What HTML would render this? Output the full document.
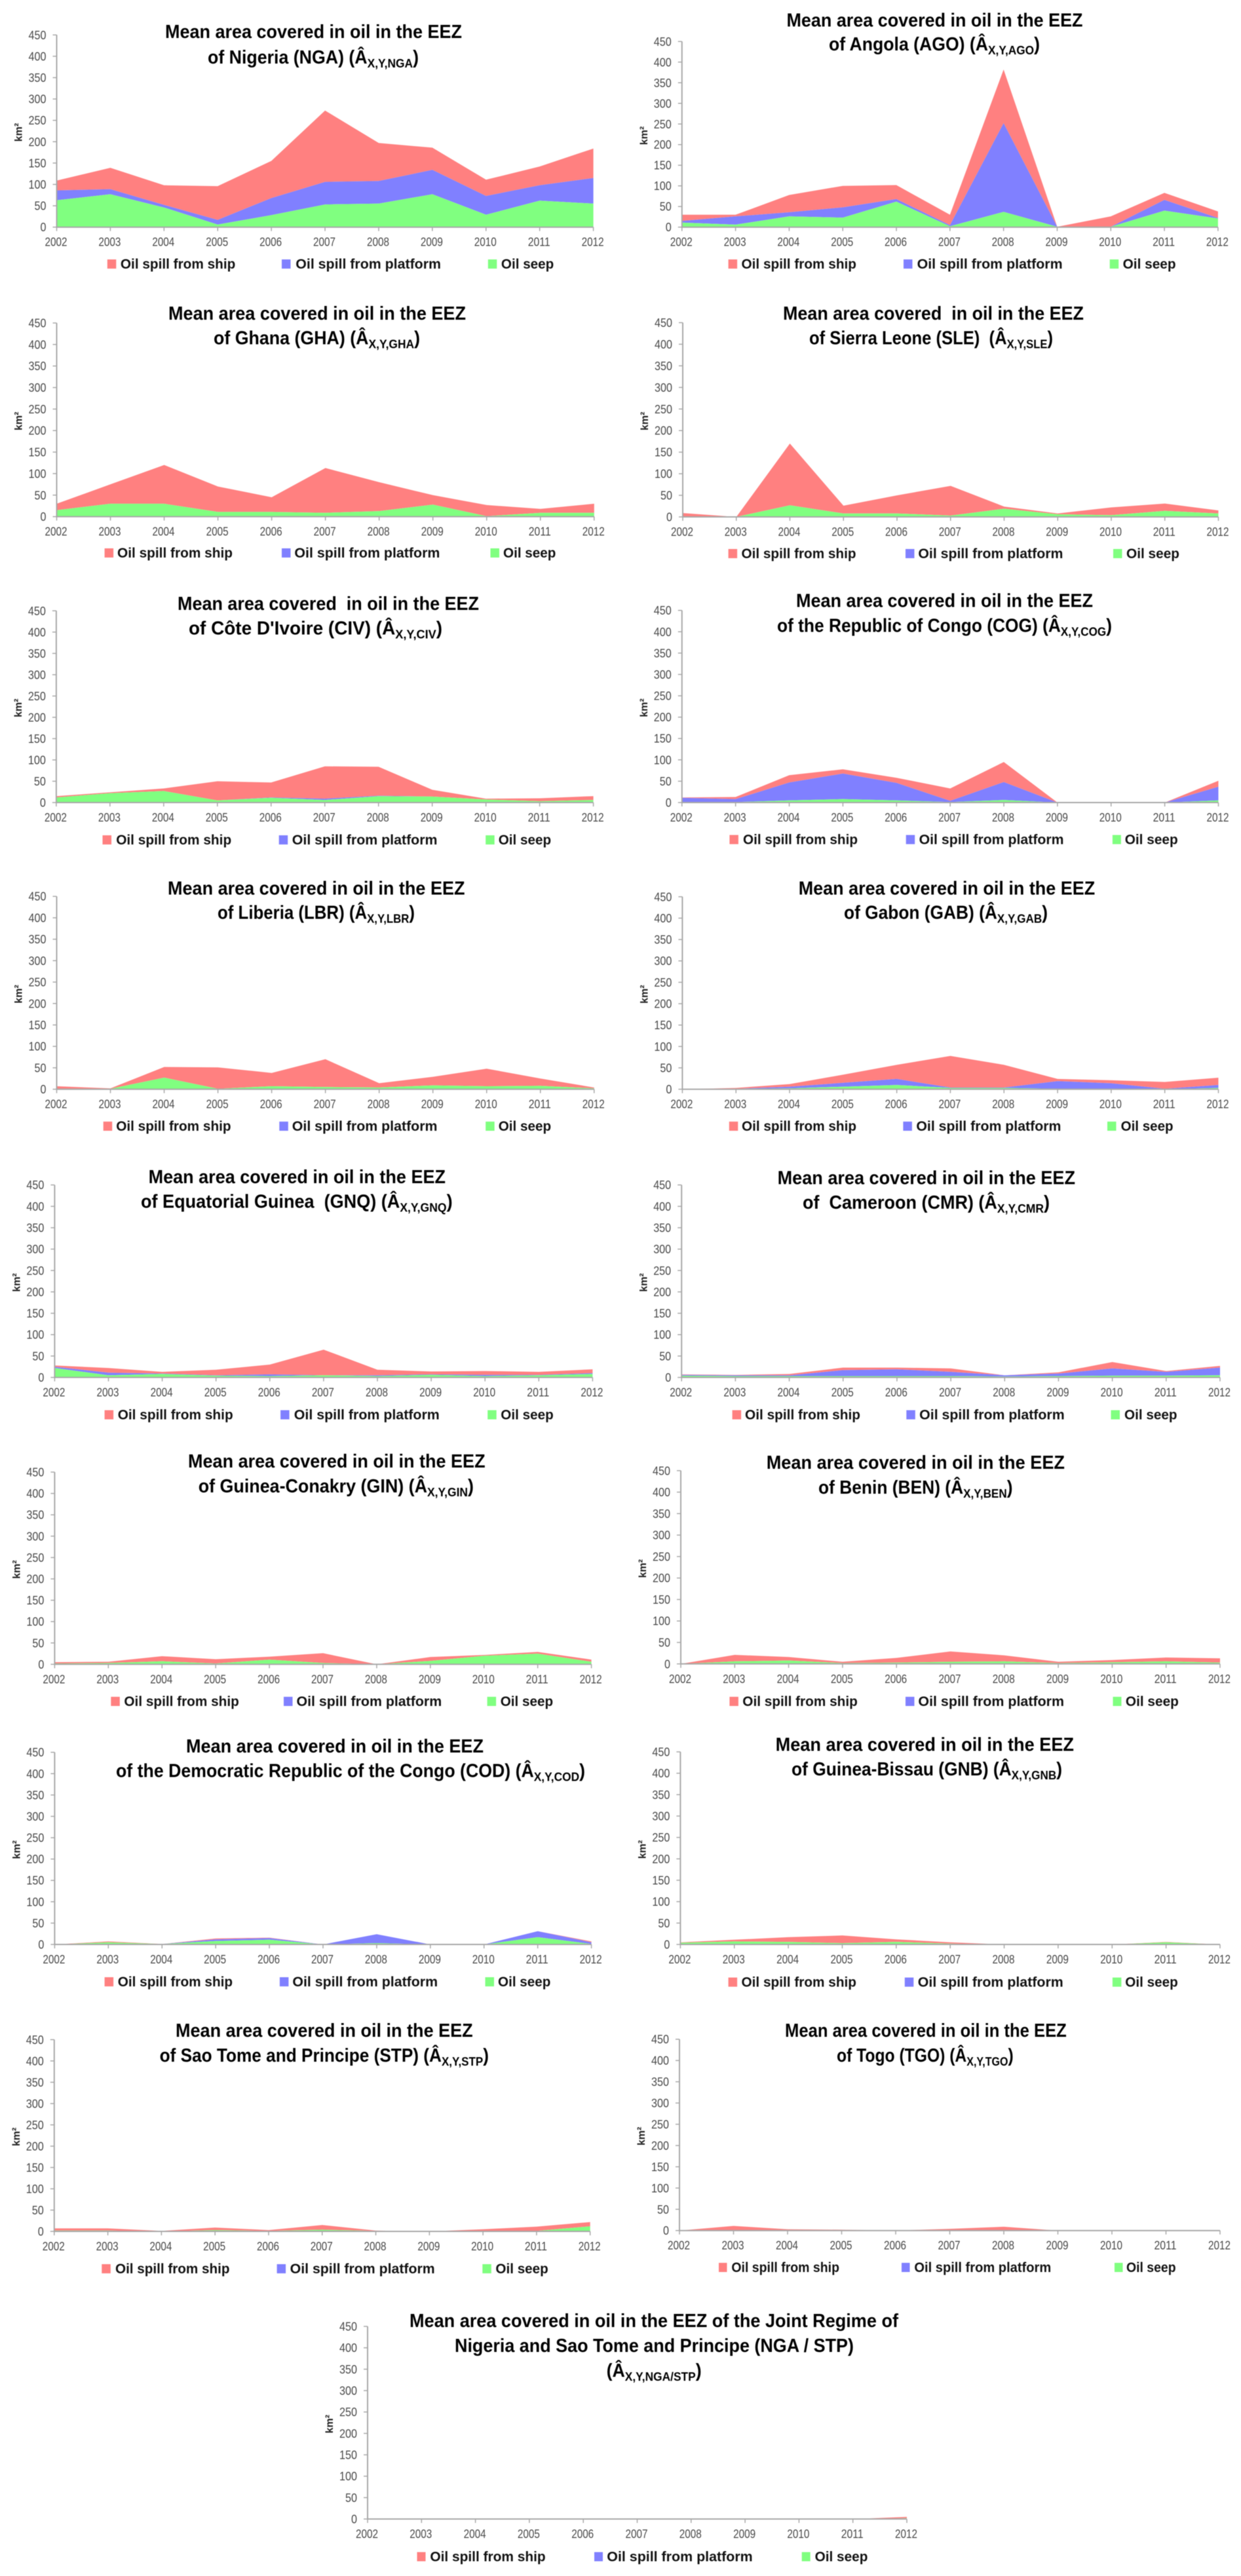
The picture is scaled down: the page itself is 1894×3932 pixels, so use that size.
<!DOCTYPE html>
<html lang="en">
<head>
<meta charset="utf-8">
<title>Mean area covered in oil in the EEZ by country</title>
<style>
html,body{margin:0;padding:0;background:#fff;}
svg{display:block;filter:blur(0.5px);}
text{font-family:"Liberation Sans",sans-serif;white-space:pre;}
.title{font-size:28.5px;font-weight:bold;fill:#000;}
.sub{font-size:18.5px;}
.legend{font-size:21px;font-weight:bold;fill:#111;}
.tick{font-size:18px;fill:#4a4a4a;}
.unit{font-size:16px;font-weight:bold;fill:#222;}
.ship{fill:#ff8080;}
.platform{fill:#8080ff;}
.seep{fill:#80ff80;}
</style>
</head>
<body>
<svg xmlns="http://www.w3.org/2000/svg" width="1894" height="3932" viewBox="0 0 1894 3932">
<rect x="0" y="0" width="1894" height="3932" fill="#fff"/>

<g>
<text class="title" x="252" y="58" textLength="453" lengthAdjust="spacingAndGlyphs">Mean area covered in oil in the EEZ</text>
<text class="title" x="317" y="97" textLength="322" lengthAdjust="spacingAndGlyphs">of Nigeria (NGA) (Â<tspan class="sub" dy="6">X,Y,NGA</tspan><tspan dy="-6">)</tspan></text>
<g id="plot-NGA"></g>
<rect class="ship" x="163.8" y="396" width="13.5" height="14"/>
<text class="legend" x="183.9" y="410" textLength="175.4" lengthAdjust="spacingAndGlyphs">Oil spill from ship</text>
<rect class="platform" x="430" y="396" width="13.5" height="14"/>
<text class="legend" x="451.3" y="410" textLength="221.7" lengthAdjust="spacingAndGlyphs">Oil spill from platform</text>
<rect class="seep" x="744.8" y="396" width="13.5" height="14"/>
<text class="legend" x="764.9" y="410" textLength="80.4" lengthAdjust="spacingAndGlyphs">Oil seep</text>
</g>

<g>
<text class="title" x="1200.5" y="40.7" textLength="452" lengthAdjust="spacingAndGlyphs">Mean area covered in oil in the EEZ</text>
<text class="title" x="1265" y="77" textLength="322" lengthAdjust="spacingAndGlyphs">of Angola (AGO) (Â<tspan class="sub" dy="6">X,Y,AGO</tspan><tspan dy="-6">)</tspan></text>
<g id="plot-AGO"></g>
<rect class="ship" x="1111.6" y="396" width="13.5" height="14"/>
<text class="legend" x="1131.5" y="410" textLength="175.5" lengthAdjust="spacingAndGlyphs">Oil spill from ship</text>
<rect class="platform" x="1379" y="396" width="13.5" height="14"/>
<text class="legend" x="1399.6" y="410" textLength="222" lengthAdjust="spacingAndGlyphs">Oil spill from platform</text>
<rect class="seep" x="1693.7" y="396" width="13.5" height="14"/>
<text class="legend" x="1713.6" y="410" textLength="81" lengthAdjust="spacingAndGlyphs">Oil seep</text>
</g>

<g>
<text class="title" x="257" y="488" textLength="454" lengthAdjust="spacingAndGlyphs">Mean area covered in oil in the EEZ</text>
<text class="title" x="326" y="525.7" textLength="315" lengthAdjust="spacingAndGlyphs">of Ghana (GHA) (Â<tspan class="sub" dy="6">X,Y,GHA</tspan><tspan dy="-6">)</tspan></text>
<g id="plot-GHA"></g>
<rect class="ship" x="159.6" y="837" width="13.5" height="14"/>
<text class="legend" x="179" y="851" textLength="176" lengthAdjust="spacingAndGlyphs">Oil spill from ship</text>
<rect class="platform" x="430" y="837" width="13.5" height="14"/>
<text class="legend" x="449.4" y="851" textLength="222" lengthAdjust="spacingAndGlyphs">Oil spill from platform</text>
<rect class="seep" x="748.5" y="837" width="13.5" height="14"/>
<text class="legend" x="768" y="851" textLength="80.4" lengthAdjust="spacingAndGlyphs">Oil seep</text>
</g>

<g>
<text class="title" x="1195" y="488" textLength="459" lengthAdjust="spacingAndGlyphs">Mean area covered  in oil in the EEZ</text>
<text class="title" x="1235" y="525.7" textLength="372" lengthAdjust="spacingAndGlyphs">of Sierra Leone (SLE)  (Â<tspan class="sub" dy="6">X,Y,SLE</tspan><tspan dy="-6">)</tspan></text>
<g id="plot-SLE"></g>
<rect class="ship" x="1111.6" y="838" width="13.5" height="14"/>
<text class="legend" x="1131.5" y="852" textLength="175" lengthAdjust="spacingAndGlyphs">Oil spill from ship</text>
<rect class="platform" x="1382" y="838" width="13.5" height="14"/>
<text class="legend" x="1401.4" y="852" textLength="221" lengthAdjust="spacingAndGlyphs">Oil spill from platform</text>
<rect class="seep" x="1699" y="838" width="13.5" height="14"/>
<text class="legend" x="1719" y="852" textLength="81" lengthAdjust="spacingAndGlyphs">Oil seep</text>
</g>

<g transform="translate(0,-3.5)">
<text class="title" x="271" y="934.6" textLength="460" lengthAdjust="spacingAndGlyphs">Mean area covered  in oil in the EEZ</text>
<text class="title" x="288" y="972" textLength="387" lengthAdjust="spacingAndGlyphs">of Côte D'Ivoire (CIV) (Â<tspan class="sub" dy="6">X,Y,CIV</tspan><tspan dy="-6">)</tspan></text>
<g id="plot-CIV"></g>
<rect class="ship" x="156.5" y="1278.5" width="13.5" height="14"/>
<text class="legend" x="177.2" y="1292.5" textLength="176" lengthAdjust="spacingAndGlyphs">Oil spill from ship</text>
<rect class="platform" x="425.7" y="1278.5" width="13.5" height="14"/>
<text class="legend" x="445.8" y="1292.5" textLength="221.7" lengthAdjust="spacingAndGlyphs">Oil spill from platform</text>
<rect class="seep" x="741.2" y="1278.5" width="13.5" height="14"/>
<text class="legend" x="760.7" y="1292.5" textLength="80.4" lengthAdjust="spacingAndGlyphs">Oil seep</text>
</g>

<g transform="translate(0,-3.5)">
<text class="title" x="1215" y="930" textLength="453" lengthAdjust="spacingAndGlyphs">Mean area covered in oil in the EEZ</text>
<text class="title" x="1186" y="968" textLength="511" lengthAdjust="spacingAndGlyphs">of the Republic of Congo (COG) (Â<tspan class="sub" dy="6">X,Y,COG</tspan><tspan dy="-6">)</tspan></text>
<g id="plot-COG"></g>
<rect class="ship" x="1113.4" y="1278" width="13.5" height="14"/>
<text class="legend" x="1134" y="1292" textLength="175" lengthAdjust="spacingAndGlyphs">Oil spill from ship</text>
<rect class="platform" x="1382.7" y="1278" width="13.5" height="14"/>
<text class="legend" x="1402.6" y="1292" textLength="221" lengthAdjust="spacingAndGlyphs">Oil spill from platform</text>
<rect class="seep" x="1697.9" y="1278" width="13" height="14"/>
<text class="legend" x="1716.7" y="1292" textLength="81" lengthAdjust="spacingAndGlyphs">Oil seep</text>
</g>

<g transform="translate(0,-2)">
<text class="title" x="256" y="1367.4" textLength="453.5" lengthAdjust="spacingAndGlyphs">Mean area covered in oil in the EEZ</text>
<text class="title" x="332" y="1404.6" textLength="301" lengthAdjust="spacingAndGlyphs">of Liberia (LBR) (Â<tspan class="sub" dy="6">X,Y,LBR</tspan><tspan dy="-6">)</tspan></text>
<g id="plot-LBR"></g>
<rect class="ship" x="157.7" y="1714" width="13.5" height="14"/>
<text class="legend" x="177.2" y="1728" textLength="175.4" lengthAdjust="spacingAndGlyphs">Oil spill from ship</text>
<rect class="platform" x="426.3" y="1714" width="13.5" height="14"/>
<text class="legend" x="445.8" y="1728" textLength="221.7" lengthAdjust="spacingAndGlyphs">Oil spill from platform</text>
<rect class="seep" x="741.2" y="1714" width="13.5" height="14"/>
<text class="legend" x="760.7" y="1728" textLength="80.4" lengthAdjust="spacingAndGlyphs">Oil seep</text>
</g>

<g transform="translate(0,-2)">
<text class="title" x="1218.7" y="1367.4" textLength="452.5" lengthAdjust="spacingAndGlyphs">Mean area covered in oil in the EEZ</text>
<text class="title" x="1288" y="1404.6" textLength="311" lengthAdjust="spacingAndGlyphs">of Gabon (GAB) (Â<tspan class="sub" dy="6">X,Y,GAB</tspan><tspan dy="-6">)</tspan></text>
<g id="plot-GAB"></g>
<rect class="ship" x="1112.8" y="1714" width="13.5" height="14"/>
<text class="legend" x="1132" y="1728" textLength="175" lengthAdjust="spacingAndGlyphs">Oil spill from ship</text>
<rect class="platform" x="1378.4" y="1714" width="13.5" height="14"/>
<text class="legend" x="1398.4" y="1728" textLength="221" lengthAdjust="spacingAndGlyphs">Oil spill from platform</text>
<rect class="seep" x="1690" y="1714" width="13.5" height="14"/>
<text class="legend" x="1710.6" y="1728" textLength="80" lengthAdjust="spacingAndGlyphs">Oil seep</text>
</g>

<g transform="translate(0,-2)">
<text class="title" x="226.6" y="1808" textLength="453.4" lengthAdjust="spacingAndGlyphs">Mean area covered in oil in the EEZ</text>
<text class="title" x="215" y="1845.7" textLength="475.6" lengthAdjust="spacingAndGlyphs">of Equatorial Guinea  (GNQ) (Â<tspan class="sub" dy="6">X,Y,GNQ</tspan><tspan dy="-6">)</tspan></text>
<g id="plot-GNQ"></g>
<rect class="ship" x="159.6" y="2154.5" width="13.5" height="14"/>
<text class="legend" x="179.7" y="2168.5" textLength="176" lengthAdjust="spacingAndGlyphs">Oil spill from ship</text>
<rect class="platform" x="428.1" y="2154.5" width="13.5" height="14"/>
<text class="legend" x="448.8" y="2168.5" textLength="222" lengthAdjust="spacingAndGlyphs">Oil spill from platform</text>
<rect class="seep" x="744.2" y="2154.5" width="13.5" height="14"/>
<text class="legend" x="764.3" y="2168.5" textLength="80.4" lengthAdjust="spacingAndGlyphs">Oil seep</text>
</g>

<g transform="translate(0,-2)">
<text class="title" x="1186.6" y="1809.6" textLength="454.4" lengthAdjust="spacingAndGlyphs">Mean area covered in oil in the EEZ</text>
<text class="title" x="1225" y="1847" textLength="377" lengthAdjust="spacingAndGlyphs">of  Cameroon (CMR) (Â<tspan class="sub" dy="6">X,Y,CMR</tspan><tspan dy="-6">)</tspan></text>
<g id="plot-CMR"></g>
<rect class="ship" x="1117.6" y="2154.5" width="13.5" height="14"/>
<text class="legend" x="1137" y="2168.5" textLength="176" lengthAdjust="spacingAndGlyphs">Oil spill from ship</text>
<rect class="platform" x="1383.3" y="2154.5" width="13.5" height="14"/>
<text class="legend" x="1403.2" y="2168.5" textLength="221.5" lengthAdjust="spacingAndGlyphs">Oil spill from platform</text>
<rect class="seep" x="1695.5" y="2154.5" width="13.5" height="14"/>
<text class="legend" x="1716" y="2168.5" textLength="80.5" lengthAdjust="spacingAndGlyphs">Oil seep</text>
</g>

<g transform="translate(0,-2)">
<text class="title" x="287" y="2242" textLength="453.6" lengthAdjust="spacingAndGlyphs">Mean area covered in oil in the EEZ</text>
<text class="title" x="302.7" y="2280" textLength="420.3" lengthAdjust="spacingAndGlyphs">of Guinea-Conakry (GIN) (Â<tspan class="sub" dy="6">X,Y,GIN</tspan><tspan dy="-6">)</tspan></text>
<g id="plot-GIN"></g>
<rect class="ship" x="169.3" y="2592" width="13.5" height="14"/>
<text class="legend" x="189.4" y="2606" textLength="175.4" lengthAdjust="spacingAndGlyphs">Oil spill from ship</text>
<rect class="platform" x="433" y="2592" width="13.5" height="14"/>
<text class="legend" x="452.5" y="2606" textLength="221.7" lengthAdjust="spacingAndGlyphs">Oil spill from platform</text>
<rect class="seep" x="743.6" y="2592" width="13.5" height="14"/>
<text class="legend" x="763.7" y="2606" textLength="80.4" lengthAdjust="spacingAndGlyphs">Oil seep</text>
</g>

<g transform="translate(0,-2)">
<text class="title" x="1169.7" y="2244" textLength="455.3" lengthAdjust="spacingAndGlyphs">Mean area covered in oil in the EEZ</text>
<text class="title" x="1249" y="2281.8" textLength="296.5" lengthAdjust="spacingAndGlyphs">of Benin (BEN) (Â<tspan class="sub" dy="6">X,Y,BEN</tspan><tspan dy="-6">)</tspan></text>
<g id="plot-BEN"></g>
<rect class="ship" x="1113.4" y="2592" width="13.5" height="14"/>
<text class="legend" x="1133.3" y="2606" textLength="175.5" lengthAdjust="spacingAndGlyphs">Oil spill from ship</text>
<rect class="platform" x="1382" y="2592" width="13.5" height="14"/>
<text class="legend" x="1401.4" y="2606" textLength="222.7" lengthAdjust="spacingAndGlyphs">Oil spill from platform</text>
<rect class="seep" x="1698.5" y="2592" width="13" height="14"/>
<text class="legend" x="1717.9" y="2606" textLength="81" lengthAdjust="spacingAndGlyphs">Oil seep</text>
</g>

<g transform="translate(0,-3)">
<text class="title" x="284" y="2678" textLength="454" lengthAdjust="spacingAndGlyphs">Mean area covered in oil in the EEZ</text>
<text class="title" x="177" y="2715.5" textLength="716" lengthAdjust="spacingAndGlyphs">of the Democratic Republic of the Congo (COD) (Â<tspan class="sub" dy="6">X,Y,COD</tspan><tspan dy="-6">)</tspan></text>
<g id="plot-COD"></g>
<rect class="ship" x="159.6" y="3021" width="13.5" height="14"/>
<text class="legend" x="179.7" y="3035" textLength="175.4" lengthAdjust="spacingAndGlyphs">Oil spill from ship</text>
<rect class="platform" x="426.9" y="3021" width="13.5" height="14"/>
<text class="legend" x="446.4" y="3035" textLength="221.7" lengthAdjust="spacingAndGlyphs">Oil spill from platform</text>
<rect class="seep" x="740.5" y="3021" width="13.5" height="14"/>
<text class="legend" x="760" y="3035" textLength="80.4" lengthAdjust="spacingAndGlyphs">Oil seep</text>
</g>

<g transform="translate(0,-3)">
<text class="title" x="1183.6" y="2675.5" textLength="455.4" lengthAdjust="spacingAndGlyphs">Mean area covered in oil in the EEZ</text>
<text class="title" x="1208" y="2713" textLength="413" lengthAdjust="spacingAndGlyphs">of Guinea-Bissau (GNB) (Â<tspan class="sub" dy="6">X,Y,GNB</tspan><tspan dy="-6">)</tspan></text>
<g id="plot-GNB"></g>
<rect class="ship" x="1111.6" y="3021.5" width="13.5" height="14"/>
<text class="legend" x="1131.5" y="3035.5" textLength="175.5" lengthAdjust="spacingAndGlyphs">Oil spill from ship</text>
<rect class="platform" x="1380.8" y="3021.5" width="13.5" height="14"/>
<text class="legend" x="1400.8" y="3035.5" textLength="222" lengthAdjust="spacingAndGlyphs">Oil spill from platform</text>
<rect class="seep" x="1697.9" y="3021.5" width="13.5" height="14"/>
<text class="legend" x="1717.3" y="3035.5" textLength="80.5" lengthAdjust="spacingAndGlyphs">Oil seep</text>
</g>

<g>
<text class="title" x="268" y="3109" textLength="453.7" lengthAdjust="spacingAndGlyphs">Mean area covered in oil in the EEZ</text>
<text class="title" x="243.6" y="3147" textLength="502.4" lengthAdjust="spacingAndGlyphs">of Sao Tome and Principe (STP) (Â<tspan class="sub" dy="6">X,Y,STP</tspan><tspan dy="-6">)</tspan></text>
<g id="plot-STP"></g>
<rect class="ship" x="155.3" y="3456" width="13.5" height="14"/>
<text class="legend" x="176" y="3470" textLength="174.5" lengthAdjust="spacingAndGlyphs">Oil spill from ship</text>
<rect class="platform" x="422.6" y="3456" width="13.5" height="14"/>
<text class="legend" x="442.7" y="3470" textLength="221" lengthAdjust="spacingAndGlyphs">Oil spill from platform</text>
<rect class="seep" x="736.3" y="3456" width="13.5" height="14"/>
<text class="legend" x="756.4" y="3470" textLength="80.4" lengthAdjust="spacingAndGlyphs">Oil seep</text>
</g>

<g>
<text class="title" x="1198" y="3109" textLength="429.8" lengthAdjust="spacingAndGlyphs">Mean area covered in oil in the EEZ</text>
<text class="title" x="1277" y="3147" textLength="269.7" lengthAdjust="spacingAndGlyphs">of Togo (TGO) (Â<tspan class="sub" dy="6">X,Y,TGO</tspan><tspan dy="-6">)</tspan></text>
<g id="plot-TGO"></g>
<rect class="ship" x="1097" y="3454" width="12.5" height="14"/>
<text class="legend" x="1116.4" y="3468" textLength="164.6" lengthAdjust="spacingAndGlyphs">Oil spill from ship</text>
<rect class="platform" x="1376" y="3454" width="12.5" height="14"/>
<text class="legend" x="1395.4" y="3468" textLength="208.8" lengthAdjust="spacingAndGlyphs">Oil spill from platform</text>
<rect class="seep" x="1701" y="3454" width="12.5" height="14"/>
<text class="legend" x="1719" y="3468" textLength="75.6" lengthAdjust="spacingAndGlyphs">Oil seep</text>
</g>

<g>
<text class="title" x="625" y="3552" textLength="746" lengthAdjust="spacingAndGlyphs">Mean area covered in oil in the EEZ of the Joint Regime of</text>
<text class="title" x="694" y="3590" textLength="609" lengthAdjust="spacingAndGlyphs">Nigeria and Sao Tome and Principe (NGA / STP)</text>
<text class="title" x="925.6" y="3628" textLength="145" lengthAdjust="spacingAndGlyphs">(Â<tspan class="sub" dy="6">X,Y,NGA/STP</tspan><tspan dy="-6">)</tspan></text>
<g id="plot-JRZ"></g>
<rect class="ship" x="636.5" y="3895.5" width="13" height="14"/>
<text class="legend" x="656.4" y="3909.5" textLength="176.3" lengthAdjust="spacingAndGlyphs">Oil spill from ship</text>
<rect class="platform" x="907" y="3895.5" width="13" height="14"/>
<text class="legend" x="926.3" y="3909.5" textLength="222.4" lengthAdjust="spacingAndGlyphs">Oil spill from platform</text>
<rect class="seep" x="1223.7" y="3895.5" width="13" height="14"/>
<text class="legend" x="1243.6" y="3909.5" textLength="80.8" lengthAdjust="spacingAndGlyphs">Oil seep</text>
</g>
</svg>

<script>
const years = ['2002','2003','2004','2005','2006','2007','2008','2009','2010','2011','2012'];
const yTickLabels = [0,50,100,150,200,250,300,350,400,450];
const yMax = 450;

const seepNGA = [63,77,46,6,28,53,55,77,29,62,55];
const platformNGA = [23,12,6,11,40,53,53,57,44,36,60];
const shipNGA = [23,50,46,79,87,167,89,52,38,44,69];

const seepAGO = [11,6,26,23,62,2,37,1,1,40,21];
const platformAGO = [4,20,10,25,6,3,215,0,0,26,1];
const shipAGO = [15,4,42,52,34,25,130,0,25,17,16];

const seepGHA = [15,30,30,11,11,9,13,28,1,9,9];
const platformGHA = [0,0,0,0,0,0,0,0,0,0,0];
const shipGHA = [15,45,90,59,34,104,67,22,26,9,21];

const seepSLE = [1,0,27,8,8,3,19,6,4,14,8];
const platformSLE = [0,0,0,0,0,0,0,0,0,0,0];
const shipSLE = [8,0,143,18,42,69,5,2,18,17,7];

const seepCIV = [12,22,27,5,11,6,15,14,7,3,6];
const platformCIV = [0,0,0,0,1,3,1,0,0,0,0];
const shipCIV = [3,2,6,45,35,76,68,16,2,7,9];

const seepCOG = [1,1,5,8,5,1,6,0,0,0,5];
const platformCOG = [10,7,42,60,41,3,42,0,0,0,32];
const shipCOG = [1,5,17,10,12,29,47,0,0,0,14];

const seepLBR = [1,1,27,1,7,5,4,9,7,8,2];
const platformLBR = [0,0,0,0,0,0,0,0,0,0,0];
const shipLBR = [6,1,25,50,31,65,10,20,41,17,2];

const seepGAB = [0,1,2,6,10,3,3,1,1,0,3];
const platformGAB = [0,0,4,9,14,1,1,18,13,1,7];
const shipGAB = [0,2,6,19,33,74,53,5,7,16,17];

const seepGNQ = [22,5,8,4,3,5,3,6,3,5,8];
const platformGNQ = [3,6,1,1,4,0,2,1,3,1,2];
const shipGNQ = [3,11,4,13,23,60,13,7,9,7,9];

const seepCMR = [4,3,3,3,3,3,2,3,4,4,5];
const platformCMR = [2,2,2,14,16,10,3,6,17,9,18];
const shipCMR = [1,1,3,6,4,8,0,3,15,2,4];

const seepGIN = [2,3,7,2,11,3,0,8,20,25,6];
const platformGIN = [0,0,0,0,0,0,0,0,0,0,0];
const shipGIN = [3,3,12,10,7,23,0,9,2,4,5];

const seepBEN = [0,6,8,2,3,5,6,2,4,6,3];
const platformBEN = [0,0,0,0,0,0,0,0,0,0,0];
const shipBEN = [0,15,8,3,11,24,14,3,5,9,10];

const seepCOD = [0,5,1,8,11,0,3,0,0,17,1];
const platformCOD = [0,0,0,4,4,0,21,0,0,14,4];
const shipCOD = [0,2,0,2,1,0,0,0,0,0,2];

const seepGNB = [4,7,6,3,6,2,0,0,0,5,0];
const platformGNB = [0,0,0,0,0,0,0,0,0,0,0];
const shipGNB = [1,4,11,18,6,3,0,0,0,1,0];

const seepSTP = [2,2,0,3,1,4,1,0,1,1,12];
const platformSTP = [0,0,0,0,0,0,0,0,0,0,0];
const shipSTP = [5,5,1,6,2,11,1,0,4,10,10];

const seepTGO = [0,1,0,0,0,0,0,0,0,0,0];
const platformTGO = [0,0,0,0,0,0,0,0,0,0,0];
const shipTGO = [0,10,3,2,0,4,9,0,0,0,0];

const seepJRZ = [0,0,0,0,0,0,0,0,0,0,2];
const platformJRZ = [0,0,0,0,0,0,0,0,0,0,0];
const shipJRZ = [0,0,0,0,0,1.5,0,0,0,0,3];

const SVG_NS = 'http://www.w3.org/2000/svg';

function svgEl(parent, tag, cls) {
  const el = document.createElementNS(SVG_NS, tag);
  if (cls) el.setAttribute('class', cls);
  parent.appendChild(el);
  return el;
}

function makeXScale(frame) {
  return function (i) {
    return frame.left + i * (frame.right - frame.left) / (years.length - 1);
  };
}

function makeYScale(frame) {
  return function (v) {
    return frame.bottom - v * (frame.bottom - frame.top) / yMax;
  };
}

function bandPoints(lower, upper, xs, ys) {
  const pts = [];
  for (let i = 0; i < upper.length; i++) pts.push(xs(i).toFixed(1) + ',' + ys(upper[i]).toFixed(1));
  for (let i = lower.length - 1; i >= 0; i--) pts.push(xs(i).toFixed(1) + ',' + ys(lower[i]).toFixed(1));
  return pts.join(' ');
}

function drawChart(code, frame, seep, platform, ship) {
  const root = document.getElementById('plot-' + code);
  const xs = makeXScale(frame);
  const ys = makeYScale(frame);
  const base = seep.map(function () { return 0; });
  const top1 = seep.map(function (v, i) { return base[i] + v; });
  const top2 = platform.map(function (v, i) { return top1[i] + v; });
  const top3 = ship.map(function (v, i) { return top2[i] + v; });

  const shipArea = svgEl(root, 'polygon', 'ship');
  shipArea.setAttribute('points', bandPoints(top2, top3, xs, ys));
  
  

  const platformArea = svgEl(root, 'polygon', 'platform');
  platformArea.setAttribute('points', bandPoints(top1, top2, xs, ys));
  
  

  const seepArea = svgEl(root, 'polygon', 'seep');
  seepArea.setAttribute('points', bandPoints(base, top1, xs, ys));
  
  

  const yAxis = svgEl(root, 'line');
  yAxis.setAttribute('x1', frame.left);
  yAxis.setAttribute('x2', frame.left);
  yAxis.setAttribute('y1', ys(yMax));
  yAxis.setAttribute('y2', ys(0) + 1);
  yAxis.setAttribute('stroke', '#a8a8a8');
  yAxis.setAttribute('stroke-width', '2');
  
  

  const xAxis = svgEl(root, 'line');
  xAxis.setAttribute('x1', frame.left);
  xAxis.setAttribute('x2', frame.right);
  xAxis.setAttribute('y1', ys(0));
  xAxis.setAttribute('y2', ys(0));
  xAxis.setAttribute('stroke', '#a8a8a8');
  xAxis.setAttribute('stroke-width', '2');
  
  

  yTickLabels.forEach(function (v) {
    const tick = svgEl(root, 'line');
    tick.setAttribute('x1', frame.left - 6);
    tick.setAttribute('x2', frame.left);
    tick.setAttribute('y1', ys(v));
    tick.setAttribute('y2', ys(v));
    tick.setAttribute('stroke', '#a8a8a8');
    tick.setAttribute('stroke-width', '1.5');
    
    

    const label = svgEl(root, 'text', 'tick');
    label.textContent = String(v);
    label.setAttribute('x', frame.left - 16);
    label.setAttribute('y', ys(v) + 6.5);
    label.setAttribute('text-anchor', 'end');
    label.setAttribute('textLength', String(v).length * 9);
    label.setAttribute('lengthAdjust', 'spacingAndGlyphs');
    
    
  });

  years.forEach(function (year, i) {
    const tick = svgEl(root, 'line');
    tick.setAttribute('x1', xs(i));
    tick.setAttribute('x2', xs(i));
    tick.setAttribute('y1', ys(0));
    tick.setAttribute('y2', ys(0) + 6);
    tick.setAttribute('stroke', '#a8a8a8');
    tick.setAttribute('stroke-width', '1.5');
    
    

    const label = svgEl(root, 'text', 'tick');
    label.textContent = year;
    label.setAttribute('x', xs(i) - 1);
    label.setAttribute('y', ys(0) + 29);
    label.setAttribute('text-anchor', 'middle');
    label.setAttribute('textLength', '34');
    label.setAttribute('lengthAdjust', 'spacingAndGlyphs');
    
    
  });

  const unitX = frame.left - 57;
  const unitY = (frame.top + frame.bottom) / 2 + 2;
  const unit = svgEl(root, 'text', 'unit');
  unit.textContent = 'km²';
  unit.setAttribute('x', unitX);
  unit.setAttribute('y', unitY);
  unit.setAttribute('text-anchor', 'middle');
  unit.setAttribute('dominant-baseline', 'middle');
  unit.setAttribute('transform', 'rotate(-90 ' + unitX + ' ' + unitY + ')');
  
  
}

drawChart('NGA', {left:86.5, right:905.6, top:53.3, bottom:346.7}, seepNGA, platformNGA, shipNGA);
drawChart('AGO', {left:1040.8, right:1858.9, top:63.3, bottom:346.7}, seepAGO, platformAGO, shipAGO);
drawChart('GHA', {left:86.5, right:906.8, top:493, bottom:788.6}, seepGHA, platformGHA, shipGHA);
drawChart('SLE', {left:1042, right:1859.5, top:492.5, bottom:789}, seepSLE, platformSLE, shipSLE);
drawChart('CIV', {left:85.9, right:905.6, top:935.8, bottom:1228.5}, seepCIV, platformCIV, shipCIV);
drawChart('COG', {left:1040.8, right:1859.5, top:935.2, bottom:1228.5}, seepCOG, platformCOG, shipCOG);
drawChart('LBR', {left:86.5, right:906.8, top:1370.2, bottom:1664.6}, seepLBR, platformLBR, shipLBR);
drawChart('GAB', {left:1041.4, right:1859.5, top:1370.8, bottom:1664.6}, seepGAB, platformGAB, shipGAB);
drawChart('GNQ', {left:83.4, right:904.4, top:1810.7, bottom:2104.5}, seepGNQ, platformGNQ, shipGNQ);
drawChart('CMR', {left:1040.2, right:1862, top:1810.7, bottom:2104.5}, seepCMR, platformCMR, shipCMR);
drawChart('GIN', {left:83.4, right:902.6, top:2249, bottom:2542.4}, seepGIN, platformGIN, shipGIN);
drawChart('BEN', {left:1039, right:1862, top:2246.8, bottom:2541.8}, seepBEN, platformBEN, shipBEN);
drawChart('COD', {left:83.4, right:902.6, top:2677.7, bottom:2971}, seepCOD, platformCOD, shipCOD);
drawChart('GNB', {left:1038.4, right:1862, top:2677, bottom:2971}, seepGNB, platformGNB, shipGNB);
drawChart('STP', {left:82.8, right:900.7, top:3113.3, bottom:3406}, seepSTP, platformSTP, shipSTP);
drawChart('TGO', {left:1037, right:1862, top:3112.7, bottom:3404.7}, seepTGO, platformTGO, shipTGO);
drawChart('JRZ', {left:561, right:1384, top:3551, bottom:3845}, seepJRZ, platformJRZ, shipJRZ);
</script>
</body>
</html>
